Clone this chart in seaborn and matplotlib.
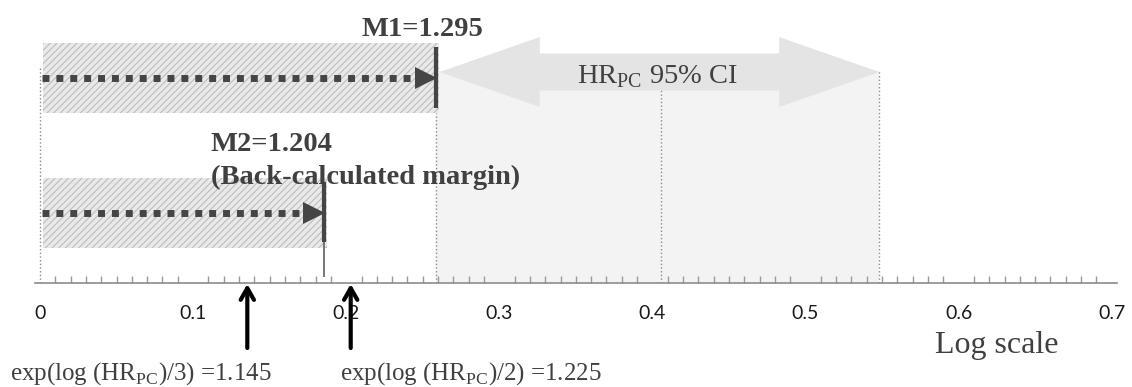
import numpy as np
import matplotlib
matplotlib.use("Agg")
import matplotlib.pyplot as plt
import matplotlib.patches as mpatches
from matplotlib.ticker import MultipleLocator
import seaborn as sns

# --- values on the hazard ratio scale
m1_hr = 1.295        # M1 = lower limit of HR_PC 95% CI
m2_hr = 1.204        # M2 back-calculated margin
ci_upper_hr = 1.73   # upper limit of HR_PC 95% CI
third_hr = 1.145     # exp(log(HR_PC)/3)
half_hr = 1.225      # exp(log(HR_PC)/2)

tick_values = [0, 0.1, 0.2, 0.3, 0.4, 0.5, 0.6, 0.7]
tick_labels = ["0", "0.1", "0.2", "0.3", "0.4", "0.5", "0.6", "0.7"]

# to log scale
m1 = np.log(m1_hr)
m2 = np.log(m2_hr)
ci_lo = m1
ci_hi = np.log(ci_upper_hr)
hr_pc = 2 * np.log(half_hr)
third = np.log(third_hr)
half = np.log(half_hr)

sns.set_theme(style="white")
plt.rcParams['mathtext.fontset'] = 'custom'
plt.rcParams['mathtext.rm'] = 'Liberation Serif'
plt.rcParams['mathtext.bf'] = 'Liberation Serif:bold'
plt.rcParams['hatch.linewidth'] = 0.8

SERIF = 'Liberation Serif'
TXT = '#404040'
DARK = '#454545'
PX = 1 / 1531  # one pixel in log units

W, H = 1132, 387
fig = plt.figure(figsize=(W / 100, H / 100), dpi=100)
ax = fig.add_axes([35 / W, 104 / H, 1082 / W, 283 / H])
ax.set_xlim(-5 * PX, 1077 * PX)
ax.set_ylim(0, 283)

# light band of the CI
ax.fill_between([ci_lo, ci_hi], 0, 212, color='#f3f3f3', lw=0, zorder=0)

# hatched boxes
ax.barh([205, 70], [m1, m2], left=3 * PX, height=70, color='#e9e9e9',
        hatch='/////', edgecolor='#bdbdbd', lw=0, zorder=1)

# thin dotted guides
ax.vlines(0, 0, 216, color='#8a8a8a', lw=1, ls=':', zorder=2)
ax.vlines(m1, 0, 170, color='#8a8a8a', lw=1, ls=':', zorder=2)
ax.vlines(hr_pc, 0, 193, color='#8a8a8a', lw=1, ls=':', zorder=2)
ax.vlines(ci_hi, 0, 212, color='#8a8a8a', lw=1, ls=':', zorder=2)

# big double arrow for the CI
hl = 100 * PX
left_tip = ci_lo + 4 * PX
yc, hh, bh = 211, 35, 18.5
pts = [(left_tip, yc), (left_tip + hl, yc + hh), (left_tip + hl, yc + bh),
       (ci_hi - hl, yc + bh), (ci_hi - hl, yc + hh), (ci_hi, yc),
       (ci_hi - hl, yc - hh), (ci_hi - hl, yc - bh), (left_tip + hl, yc - bh),
       (left_tip + hl, yc - hh)]
ax.add_patch(mpatches.Polygon(pts, closed=True, color='#e4e4e4', lw=0, zorder=3))

# dotted arrows to the margins
for m, y in [(m1, 205), (m2, 70)]:
    ax.plot([2 * PX, m - 18 * PX], [y, y], color=DARK, lw=5,
            ls=(0, (1.0, 1.0)), solid_capstyle='butt', dash_capstyle='butt', zorder=4)
    ax.plot([m - 10 * PX], [y], marker='>', ms=16, color=DARK, mew=0, zorder=4)

# margin lines
ax.vlines(m1, 175, 236, color=DARK, lw=3, zorder=5)
ax.vlines(m2, 41, 101, color=DARK, lw=3, zorder=5)
ax.vlines(m2, 6, 41, color='#606060', lw=1.2, zorder=5)

# labels
ax.text(m1 - 13 * PX, 247, 'M1=1.295', family=SERIF, weight='bold', size=20.5,
        color=TXT, ha='center', va='baseline', zorder=6)
ax.text(171 * PX, 132, 'M2=1.204', family=SERIF, weight='bold', size=20.5,
        color=TXT, ha='left', va='baseline', zorder=6)
ax.text(171 * PX, 99, '(Back-calculated margin)', family=SERIF, weight='bold',
        size=20.5, color=TXT, ha='left', va='baseline', zorder=6)
ax.text(hr_pc - 4 * PX, 200, r'HR$_{\mathrm{PC}}$ 95% CI', family=SERIF, size=20.5,
        color=TXT, ha='center', va='baseline', zorder=6)

# axis
for s in ['left', 'right', 'top']:
    ax.spines[s].set_visible(False)
ax.spines['bottom'].set_color('#8c8c8c')
ax.spines['bottom'].set_linewidth(1.2)
ax.set_yticks([])
ax.set_xticks(tick_values)
ax.set_xticklabels(tick_labels)
ax.xaxis.set_minor_locator(MultipleLocator(0.01))
ax.tick_params(axis='x', which='major', direction='out', length=7, width=1.1,
               color='#8c8c8c', pad=9, labelsize=14, labelcolor='#1a1a1a')
ax.tick_params(axis='x', which='minor', direction='in', length=5, width=1,
               color='#9a9a9a', bottom=True)
for lab in ax.get_xticklabels():
    lab.set_family('Lato')

ax.text(0.625, -70, 'Log scale', family=SERIF, size=23, color=TXT,
        ha='center', va='baseline')

# black arrows under the axis
for v in [third, half]:
    ax.annotate('', xy=(v, -1), xytext=(v, -65),
                arrowprops=dict(arrowstyle='->,head_length=0.7,head_width=0.4',
                                color='black', lw=3, shrinkA=0, shrinkB=0),
                annotation_clip=False)

ax.text(-30 * PX, -97, r'exp(log (HR$_{\mathrm{PC}}$)/3) =1.145', family=SERIF,
        size=18, color=TXT, ha='left', va='baseline')
ax.text(300 * PX, -97, r'exp(log (HR$_{\mathrm{PC}}$)/2) =1.225', family=SERIF,
        size=18, color=TXT, ha='left', va='baseline')

fig.savefig('out.png', dpi=100)
